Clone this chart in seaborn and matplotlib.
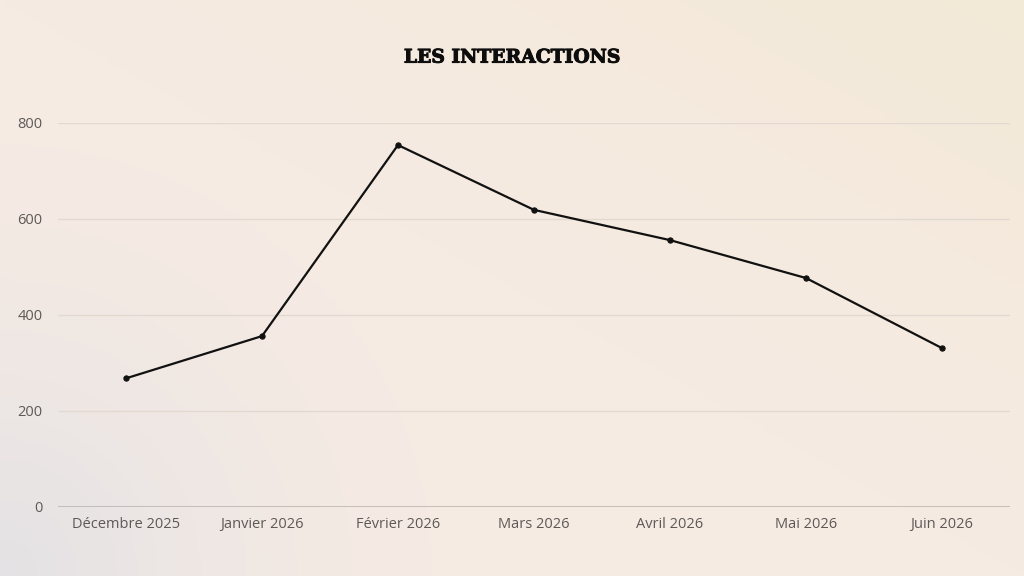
import numpy as np
import pandas as pd
import matplotlib
matplotlib.use("Agg")
import matplotlib.pyplot as plt
import matplotlib.patheffects as pe
import seaborn as sns
from matplotlib.colors import to_rgb

months = ["Décembre 2025", "Janvier 2026", "Février 2026", "Mars 2026",
          "Avril 2026", "Mai 2026", "Juin 2026"]
interactions = [268, 356, 754, 619, 556, 477, 331]
y_ticks = [0, 200, 400, 600, 800]

df = pd.DataFrame({"mois": months, "interactions": interactions})

sns.set_theme(style="white")
plt.rcParams["font.family"] = ["Open Sans", "DejaVu Sans"]

fig = plt.figure(figsize=(10.24, 5.76), dpi=100)

# background: peach base, cream towards top-right, grey in bottom-left corner
bg = fig.add_axes([0, 0, 1, 1], zorder=-10)
gx, gy = np.meshgrid(np.linspace(0, 1, 320), np.linspace(1, 0, 180))
base = np.array(to_rgb("#f6ebe3"))
cream = np.array(to_rgb("#f3e9d7"))
grey = np.array(to_rgb("#e4e2e5"))
w_cream = np.clip((gx + gy - 1.0) / 1.0, 0, 1)[..., None]
d = np.sqrt((gx * 1.78) ** 2 + gy ** 2)
w_grey = np.clip(1 - d / 0.75, 0, 1)[..., None] ** 1.3
img = base * (1 - w_cream) + cream * w_cream
img = img * (1 - w_grey) + grey * w_grey
bg.imshow(img, aspect="auto", extent=[0, 1, 0, 1], origin="upper")
bg.axis("off")

ax = fig.add_axes([0.0566, 0.1198, 0.9297, 0.6667])
ax.patch.set_alpha(0)

sns.lineplot(data=df, x="mois", y="interactions", ax=ax, color="#111111",
             linewidth=1.6, marker="o", markersize=3.8,
             markeredgecolor="#111111", sort=False, clip_on=False, zorder=3)

ax.set_xlim(-0.5, len(months) - 0.5)
ax.set_ylim(0, 800)
ax.set_yticks(y_ticks)
ax.set_yticklabels([str(v) for v in y_ticks])
ax.set_xlabel("")
ax.set_ylabel("")

for v in y_ticks[1:]:
    ax.axhline(v, color="#e2d9d0", linewidth=1, zorder=1)
ax.axhline(0, color="#bdb6b0", linewidth=1.2, zorder=2)

for s in ax.spines.values():
    s.set_visible(False)

ax.tick_params(axis="both", length=0, labelsize=10.5, labelcolor="#5e5956")
ax.tick_params(axis="y", pad=11)
ax.tick_params(axis="x", pad=7)

title = fig.text(0.5, 0.9, "LES INTERACTIONS", ha="center", va="center",
                 fontsize=13.5, fontweight="heavy", color="#0d0d0d",
                 family=["DejaVu Serif"])
title.set_path_effects([pe.withStroke(linewidth=0.7, foreground="#0d0d0d")])

fig.savefig("out.png", dpi=100)
